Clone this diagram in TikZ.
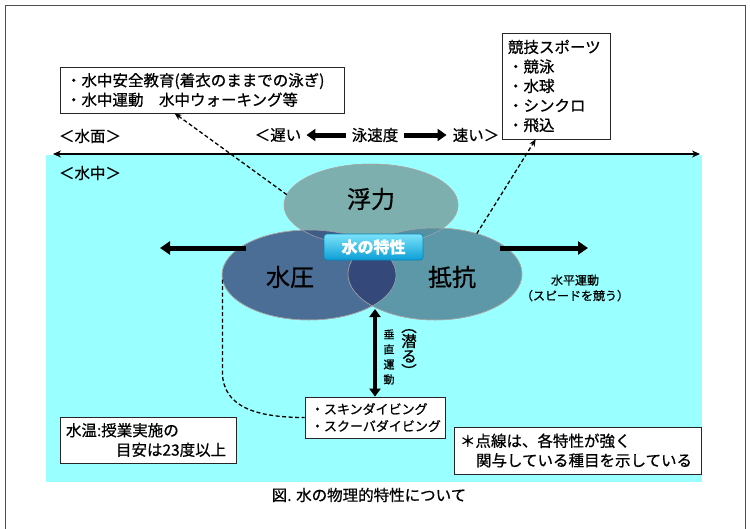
\documentclass[tikz,border=0pt]{standalone}
\usepackage{fontspec}
\setmainfont{Noto Sans CJK JP}[RawFeature={embolden=0.7}]
\usetikzlibrary{arrows.meta,shapes.geometric,calc}
\definecolor{aqua}{HTML}{99FFFF}
\definecolor{fuC}{HTML}{7DAFAF}
\definecolor{suiC}{HTML}{4B6E96}
\definecolor{teiC}{HTML}{5C98A8}
\definecolor{fusuiC}{HTML}{3F5C88}
\definecolor{futeiC}{HTML}{5590A3}
\definecolor{suiteiC}{HTML}{34497A}
\definecolor{tagTop}{HTML}{7BE3FA}
\definecolor{tagBot}{HTML}{0C9ED6}
\definecolor{tagEdge}{HTML}{0A86B8}
\begin{document}
\begin{tikzpicture}[x=1pt,y=-1pt,
  box/.style={draw=black!85, line width=0.7pt, fill=white, inner sep=5pt, align=left, font=\fontsize{15.5}{19.5}\selectfont},
  dasharrow/.style={draw=black, line width=1.3pt, dash pattern=on 4pt off 2.5pt, -{Stealth[length=7pt,width=6pt]}},
  boldarrow/.style={line width=5pt, -{Triangle[length=10pt,width=13pt]}},
  lbl/.style={inner sep=0pt, font=\fontsize{15.5}{19}\selectfont},
  bigtxt/.style={inner sep=0pt, font=\fontsize{24}{28}\selectfont},
  oval/.style={ellipse, inner sep=0pt, outer sep=0pt, draw=black!35, line width=0.5pt}
]
\useasboundingbox (0,0) rectangle (750,528);
\fill[white] (0,0) rectangle (750,528);
\draw[black!70, line width=0.8pt] (5,5) rectangle (745,560);
\fill[aqua] (46,155) rectangle (702,482);

% surface line
\coordinate (sL) at (53,154);
\coordinate (sR) at (700,154);
\draw[line width=1.4pt, {Stealth[length=8pt,width=7pt]}-{Stealth[length=8pt,width=7pt]}] (sL) -- (sR);

\node[lbl] (surf) at (90,136) {＜水面＞};
\node[lbl] (under) at (90,173) {＜水中＞};

\node[lbl] (slow) at (278,135) {＜遅い};
\node[lbl] (spd) at (375,135) {泳速度};
\node[lbl] (fast) at (476,135) {速い＞};
\draw[line width=5pt, -{Triangle[length=9pt,width=12pt]}, shorten <=6pt, shorten >=5pt] (spd.west) -- (slow.east);
\draw[line width=5pt, -{Triangle[length=9pt,width=12pt]}, shorten <=6pt, shorten >=6pt] (spd.east) -- (fast.west);

% ellipses
\node[oval, fill=fuC, minimum width=174pt, minimum height=82pt] (fu) at (371,205) {};
\node[oval, fill=suiC, minimum width=174pt, minimum height=90pt] (sui) at (309,275) {};
\node[oval, fill=teiC, minimum width=174pt, minimum height=92pt] (tei) at (435,274) {};
\begin{scope}
  \clip (371,205) ellipse [x radius=87pt, y radius=41pt];
  \fill[fusuiC] (309,275) ellipse [x radius=87pt, y radius=45pt];
  \fill[futeiC] (435,274) ellipse [x radius=87pt, y radius=46pt];
\end{scope}
\begin{scope}
  \clip (309,275) ellipse [x radius=87pt, y radius=45pt];
  \fill[suiteiC] (435,274) ellipse [x radius=87pt, y radius=46pt];
\end{scope}
\draw[black!35, line width=0.5pt] (371,205) ellipse [x radius=87pt, y radius=41pt];
\draw[black!35, line width=0.5pt] (309,275) ellipse [x radius=87pt, y radius=45pt];
\draw[black!35, line width=0.5pt] (435,274) ellipse [x radius=87pt, y radius=46pt];

\node[bigtxt] (fuL) at (371,199) {浮力};
\node[bigtxt] (suiL) at (290,277) {水圧};
\node[bigtxt] (teiL) at (452,277) {抵抗};

\node[rounded corners=3pt, draw=tagEdge, line width=0.6pt, top color=tagTop, bottom color=tagBot,
      minimum width=99pt, minimum height=26pt, inner sep=0pt, text=white,
      font=\fontsize{16}{18}\selectfont\bfseries] (tag) at (373.5,247) {水の特性};

% horizontal bold arrows
\coordinate (hl1) at (246,248);
\coordinate (hl2) at (160,248);
\coordinate (hr1) at (500,248);
\coordinate (hr2) at (588,248);
\draw[boldarrow] (hl1) -- (hl2);
\draw[boldarrow] (hr1) -- (hr2);

\node[inner sep=0pt, align=center, font=\fontsize{12}{15.5}\selectfont] (hlab) at (575,288) {水平運動\\（スピードを競う）};

% boxes
\node[box, minimum width=284pt, minimum height=46pt, text width=272pt] (lbox) at (202,90)
  {・水中安全教育(着衣のままでの泳ぎ)\\・水中運動　水中ウォーキング等};
\node[box, minimum width=108pt, minimum height=106pt, text width=96pt] (rbox) at (556,86)
  {競技スポーツ\\・競泳\\・水球\\・シンクロ\\・飛込};
\node[box, font=\fontsize{13}{17}\selectfont, minimum width=140pt, minimum height=41pt, text width=128pt] (dive) at (375,417.5)
  {・スキンダイビング\\・スクーバダイビング};
\node[box, minimum width=176pt, minimum height=46pt, text width=164pt] (temp) at (148,440)
  {水温:授業実施の\\\hspace*{50pt}目安は23度以上};
\node[box, minimum width=247pt, minimum height=47pt, text width=235pt] (note) at (577.5,450.5)
  {＊点線は、各特性が強く\\\hspace*{16pt}関与している種目を示している};

\node[lbl] (cap) at (369,495) {図. 水の物理的特性について};

% vertical arrow and labels
\coordinate (vtop) at (375,309);
\draw[line width=4.5pt, {Triangle[length=8pt,width=11pt]}-{Triangle[length=8pt,width=11pt]}] (vtop) -- (vtop |- dive.north);
\node[inner sep=0pt, align=center, font=\fontsize{11}{15}\selectfont] (vlab) at (389,357) {垂\\直\\運\\動};
\node[inner sep=0pt, align=center, font=\fontsize{15.5}{15}\selectfont] (dlab) at (409,353) {︵\\潜\\る\\︶};

% dashed connectors
\draw[dasharrow] (fu.173) -- ([xshift=115pt]lbox.south west);
\draw[dasharrow] (tei.44) -- ([xshift=34pt]rbox.south west);
\coordinate (bend) at (0,372);
\draw[line width=1.3pt, dash pattern=on 4pt off 2.5pt] (sui.183) -- (sui.183 |- bend) .. controls +(0,35) and +(-48,0) .. (dive.west);
\end{tikzpicture}
\end{document}
